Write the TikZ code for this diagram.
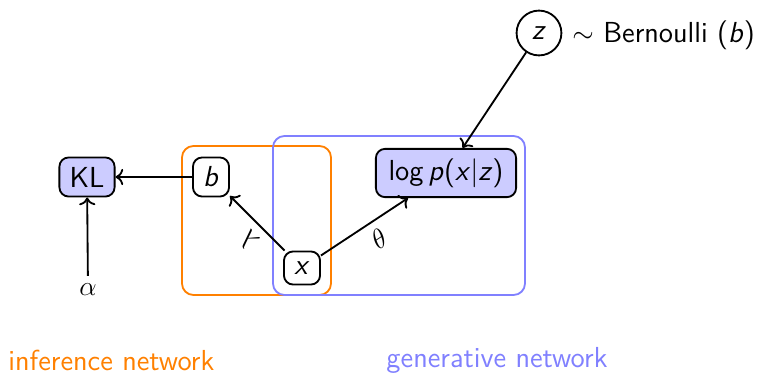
\documentclass[tikz,border=0pt]{standalone}
\usetikzlibrary{arrows.meta}
\definecolor{myorange}{RGB}{255,128,0}
\definecolor{myblue}{RGB}{128,128,255}
\definecolor{myfill}{RGB}{204,204,255}
\newcommand{\svar}[1]{\textit{#1}}
\begin{document}
\begin{tikzpicture}[x=0.435pt,y=-0.435pt,font=\sffamily\fontsize{12.6}{15}\selectfont,
  var/.style={draw,thick,rounded corners=4pt,inner sep=2.5pt,minimum height=17pt},
  fvar/.style={var,fill=myfill},
  arr/.style={->,thick},
  netbox/.style={thick,rounded corners=5pt}]
\useasboundingbox (0,0) rectangle (758,373);
\draw[netbox,myorange] (182,146) rectangle (331,295);
\draw[netbox,myblue] (273,136) rectangle (525,295);
\node[draw,thick,circle,minimum size=19.5pt,inner sep=0pt] (z) at (539,33) {\svar{z}};
\node[anchor=west,inner sep=0pt] (bern) at (572,35) {$\sim$ Bernoulli (\svar{b})};
\node[fvar,minimum width=24pt] (kl) at (87,177) {KL};
\node[var,minimum width=15.7pt] (b) at (211,177) {\svar{b}};
\node[fvar,minimum height=21pt,minimum width=61pt] (logp) at (446,173) {log\,\svar{p}(\svar{x}|\svar{z})};
\node[var,minimum width=15.7pt,minimum height=14.4pt] (x) at (302,268) {\svar{x}};
\node (alpha) at (88,290) {$\alpha$};
\draw[arr] (z) -- (logp);
\draw[arr] (b) -- (kl);
\draw[arr] (alpha) -- (kl);
\draw[arr] (x) -- node[sloped,allow upside down,above,pos=0.42] {$\lambda$} (b);
\draw[arr] (x) -- node[sloped,below,pos=0.55] {$\theta$} (logp);
\node[myorange,anchor=west,inner sep=0pt] (inf) at (8,360) {inference network};
\node[myblue,anchor=west,inner sep=0pt] (gen) at (386,360) {generative network};
\end{tikzpicture}
\end{document}
